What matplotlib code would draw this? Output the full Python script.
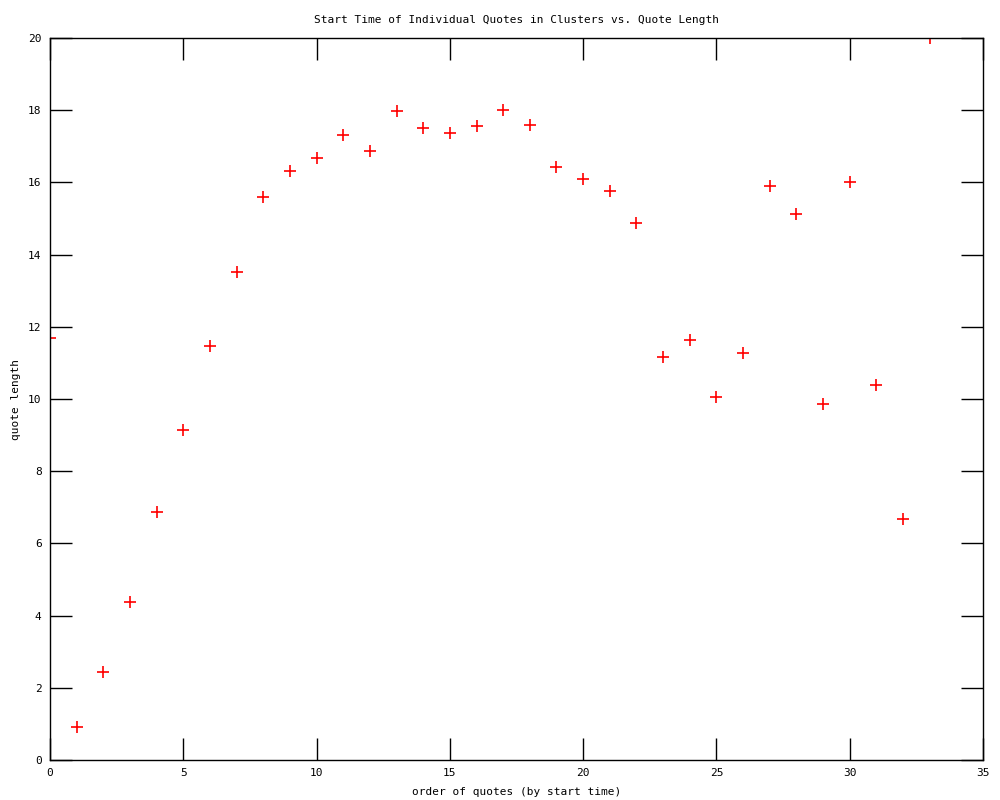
import matplotlib.pyplot as plt

# order of quotes and their lengths
order = list(range(34))
quote_length = [11.69, 0.91, 2.44, 4.38, 6.87, 9.14, 11.47, 13.52, 15.60, 16.32,
                16.68, 17.31, 16.87, 17.98, 17.51, 17.37, 17.56, 18.00, 17.59, 16.43,
                16.09, 15.76, 14.88, 11.16, 11.63, 10.06, 11.27, 15.90, 15.12, 9.86,
                16.01, 10.39, 6.68, 20.00]

x_ticks = [0, 5, 10, 15, 20, 25, 30, 35]
y_ticks = [0, 2, 4, 6, 8, 10, 12, 14, 16, 18, 20]

plt.rcParams["font.family"] = ["DejaVu Sans Mono"]

fig = plt.figure(figsize=(10, 8), dpi=100)
ax = fig.add_axes([0.05, 0.05, 0.933, 0.9025])

ax.plot(order, quote_length, linestyle="none", marker="+", color="red",
        markersize=8, markeredgewidth=1.2, clip_on=True)

ax.set_xlim(0, 35)
ax.set_ylim(0, 20)
ax.set_xticks(x_ticks)
ax.set_yticks(y_ticks)
ax.tick_params(direction="in", length=16, width=1, top=True, right=True,
               labelsize=8, pad=6)
for s in ax.spines.values():
    s.set_linewidth(1)

ax.set_title("Start Time of Individual Quotes in Clusters vs. Quote Length",
             fontsize=8, pad=11)
ax.set_xlabel("order of quotes (by start time)", fontsize=8, labelpad=6)
ax.set_ylabel("quote length", fontsize=8, labelpad=5)

fig.savefig("out.png", dpi=100)
